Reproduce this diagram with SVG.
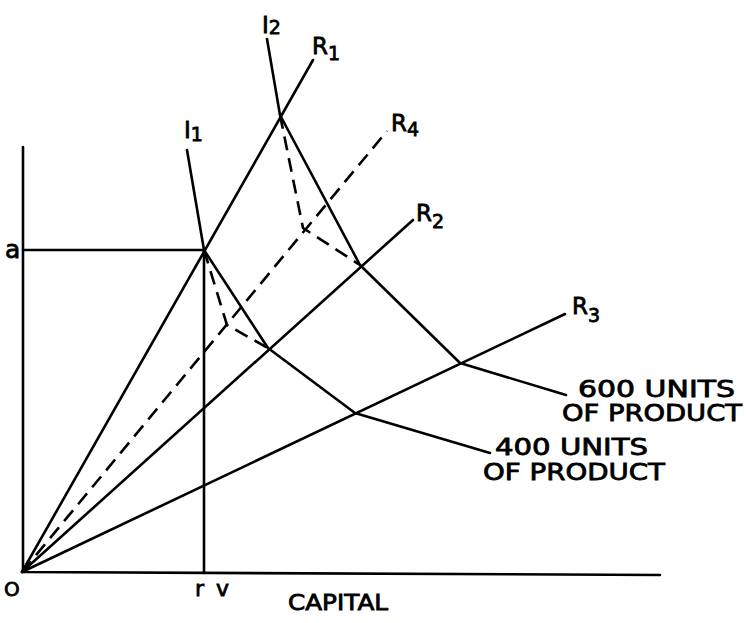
<svg xmlns="http://www.w3.org/2000/svg" width="746" height="623" viewBox="0 0 746 623">
<style>
.l{stroke:#000;stroke-width:2.6;fill:none;stroke-linecap:round;stroke-linejoin:round}
.d{stroke-dasharray:14 8;stroke-linecap:butt}
text{font-family:"DejaVu Sans","Liberation Sans",sans-serif;fill:#000;stroke:#000;stroke-width:0.8}
.lb{font-size:23px}
.sb{font-size:19px}
.big{font-size:23px}
</style>
<rect width="746" height="623" fill="#fff"/>
<g id="axes">
<path class="l" d="M23,147 L23,572 L660,575"/>
<path class="l" d="M23,250 L204,250 L204,573"/>
</g>
<g id="connectors">
<path id="R1" class="l" d="M22,572 L313,60"/>
<path id="R2" class="l" d="M22,572 L413,220"/>
<path id="R3" class="l" d="M22,572 L565,314"/>
<path id="R4" class="l d" d="M22,572 L387,131"/>
<polyline id="I2" class="l" points="267,39 280,115 360,265 460,363 566,395"/>
<polyline id="I1" class="l" points="187,150 204,250 268,348 355,413 490,453"/>
<polyline id="I2d" class="l d" points="280,115 303,228 360,265"/>
<polyline id="I1d" class="l d" points="204,250 227,325 268,348"/>
</g>
<g id="labels">
<text class="lb" x="262" y="33">I<tspan class="sb" dy="1">2</tspan></text>
<text class="lb" x="312" y="54">R<tspan class="sb" dy="6">1</tspan></text>
<text class="lb" x="391" y="131">R<tspan class="sb" dy="5">4</tspan></text>
<text class="lb" x="184" y="138">I<tspan class="sb" dy="3">1</tspan></text>
<text class="lb" x="416" y="221">R<tspan class="sb" dy="7">2</tspan></text>
<text class="lb" x="572" y="314">R<tspan class="sb" dy="8">3</tspan></text>
<text class="big" x="578" y="397" textLength="157" lengthAdjust="spacingAndGlyphs">600 UNITS</text>
<text class="big" x="562" y="421" textLength="180" lengthAdjust="spacingAndGlyphs">OF PRODUCT</text>
<text class="big" x="495" y="455" textLength="153" lengthAdjust="spacingAndGlyphs">400 UNITS</text>
<text class="big" x="483" y="480" textLength="182" lengthAdjust="spacingAndGlyphs">OF PRODUCT</text>
<text x="288" y="610" style="font-size:21px" textLength="100" lengthAdjust="spacingAndGlyphs">CAPITAL</text>
<text x="4" y="596" style="font-size:20px">O</text>
<text x="195" y="596" style="font-size:22px">r</text>
<text x="216" y="596" style="font-size:22px">v</text>
<text x="5" y="258" style="font-size:25px">a</text>
</g>
</svg>
